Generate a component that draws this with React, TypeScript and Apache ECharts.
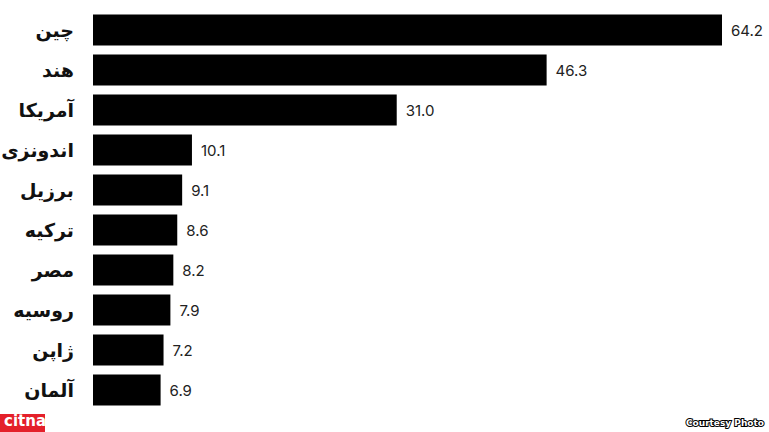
import React, { useEffect, useRef } from "react";
import * as echarts from "echarts";

const countries = ["چین", "هند", "آمریکا", "اندونزی", "برزیل", "ترکیه", "مصر", "روسیه", "ژاپن", "آلمان"];
const values = [64.2, 46.3, 31.0, 10.1, 9.1, 8.6, 8.2, 7.9, 7.2, 6.9];

export default function App() {
  const ref = useRef<HTMLDivElement>(null);
  useEffect(() => {
    const chart = echarts.init(ref.current!, null, { renderer: "svg" });
    chart.setOption({
      animation: false,
      backgroundColor: "#ffffff",
      grid: { left: 93, right: 47, top: 10, height: 400, containLabel: false, outerBoundsMode: "none" },
      xAxis: {
        type: "value",
        min: 0,
        max: 64.2,
        show: false,
      },
      yAxis: {
        type: "category",
        inverse: true,
        data: countries,
        axisLine: { show: false },
        axisTick: { show: false },
        axisLabel: {
          margin: 19,
          fontFamily: "DejaVu Sans",
          fontWeight: "bold",
          fontSize: 19,
          color: "#111",
        },
      },
      series: [
        {
          type: "bar",
          data: values,
          barWidth: 31,
          itemStyle: { color: "#000" },
          label: {
            show: true,
            position: "right",
            distance: 9,
            formatter: (p: any) => p.value.toFixed(1),
            fontFamily: "Inter",
            fontSize: 15,
            color: "#222",
          },
        },
      ],
      graphic: [
        {
          type: "rect",
          left: 0,
          top: 414,
          shape: { width: 45, height: 18 },
          style: { fill: "#e4202a" },
        },
        {
          type: "text",
          left: 4,
          top: 413,
          style: {
            text: "citna",
            fill: "#fff",
            font: "bold 15px 'DejaVu Sans'",
          },
        },
        {
          type: "text",
          right: 4,
          top: 417,
          style: {
            text: "Courtesy Photo",
            fill: "#fff",
            stroke: "#000",
            lineWidth: 2,
            font: "bold 9px 'DejaVu Sans'",
          },
        },
      ],
    });
    return () => chart.dispose();
  }, []);
  return <div ref={ref} style={{ width: 769, height: 432, position: "absolute", left: 0, top: 0 }} />;
}
